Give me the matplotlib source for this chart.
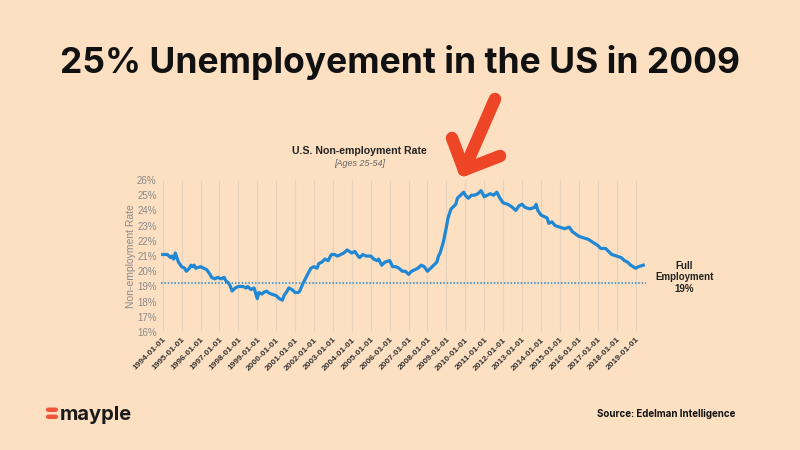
import pandas as pd
import matplotlib.pyplot as plt
import matplotlib.dates as mdates
from matplotlib.lines import Line2D
from matplotlib.patches import FancyBboxPatch

# monthly points (non-employment rate, ages 25-54, %)
months = [
    "1994-01", "1994-04", "1994-06", "1994-07", "1994-08", "1994-09", "1994-10", "1994-11",
    "1995-01", "1995-03", "1995-04", "1995-06", "1995-07", "1995-08", "1995-09", "1995-10",
    "1996-01", "1996-03", "1996-05", "1996-07", "1996-08", "1996-10", "1996-12",
    "1997-02", "1997-04", "1997-05", "1997-06", "1997-07", "1997-08", "1997-09", "1997-11",
    "1998-01", "1998-04", "1998-06", "1998-07", "1998-09", "1998-11",
    "1999-01", "1999-02", "1999-04", "1999-05", "1999-07", "1999-08", "1999-10",
    "2000-01", "2000-03", "2000-05", "2000-06", "2000-08", "2000-09", "2000-11",
    "2001-01", "2001-03", "2001-04", "2001-06", "2001-08", "2001-10", "2001-11",
    "2002-01", "2002-03", "2002-04", "2002-06", "2002-08", "2002-10", "2002-12",
    "2003-02", "2003-04", "2003-06", "2003-08", "2003-10",
    "2004-01", "2004-03", "2004-05", "2004-06", "2004-08", "2004-10",
    "2005-01", "2005-03", "2005-05", "2005-06", "2005-08", "2005-10",
    "2006-01", "2006-03", "2006-05", "2006-07", "2006-09", "2006-11",
    "2007-01", "2007-03", "2007-05", "2007-07", "2007-09", "2007-11",
    "2008-01", "2008-03", "2008-05", "2008-07", "2008-08", "2008-09", "2008-11",
    "2009-01", "2009-02", "2009-03", "2009-04", "2009-06", "2009-07", "2009-08", "2009-10", "2009-12",
    "2010-01", "2010-03", "2010-05", "2010-07", "2010-09", "2010-11",
    "2011-01", "2011-03", "2011-05", "2011-07", "2011-09", "2011-11",
    "2012-01", "2012-04", "2012-07", "2012-09", "2012-11",
    "2013-01", "2013-03", "2013-06", "2013-09", "2013-10", "2013-11",
    "2014-01", "2014-03", "2014-05", "2014-06", "2014-08", "2014-10",
    "2015-01", "2015-04", "2015-07", "2015-09",
    "2016-01", "2016-04", "2016-07", "2016-10",
    "2017-01", "2017-03", "2017-06", "2017-08", "2017-10",
    "2018-01", "2018-04", "2018-06", "2018-08", "2018-10",
    "2019-01", "2019-03", "2019-06",
]
rate = [
    21.1, 21.1, 20.9, 21.0, 20.8, 21.2, 20.9, 20.6,
    20.3, 20.2, 20.0, 20.2, 20.4, 20.3, 20.4, 20.2,
    20.3, 20.2, 20.1, 19.8, 19.6, 19.5, 19.6,
    19.5, 19.6, 19.4, 19.3, 19.2, 19.0, 18.7, 18.9,
    19.0, 19.0, 18.9, 19.0, 18.8, 18.9,
    18.2, 18.6, 18.5, 18.6, 18.7, 18.6, 18.5,
    18.4, 18.2, 18.1, 18.4, 18.7, 18.9, 18.8,
    18.6, 18.6, 18.7, 19.2, 19.6, 20.0, 20.2,
    20.3, 20.2, 20.5, 20.6, 20.8, 20.7, 21.1,
    21.1, 21.0, 21.1, 21.2, 21.4,
    21.2, 21.3, 21.0, 20.9, 21.1, 21.0,
    21.0, 20.8, 20.7, 20.8, 20.4, 20.6,
    20.7, 20.3, 20.3, 20.2, 20.0, 20.0,
    19.8, 20.0, 20.1, 20.2, 20.4, 20.3,
    20.0, 20.2, 20.4, 20.6, 21.0, 21.2, 21.9,
    22.9, 23.5, 23.8, 24.1, 24.3, 24.4, 24.8, 25.0, 25.2,
    25.0, 24.8, 25.0, 25.0, 25.1, 25.3,
    24.9, 25.0, 25.1, 25.0, 25.2, 24.8,
    24.5, 24.4, 24.2, 24.0, 24.3,
    24.4, 24.2, 24.1, 24.2, 24.4, 24.0,
    23.7, 23.6, 23.5, 23.15, 23.25, 23.0,
    22.9, 22.8, 22.9, 22.6,
    22.3, 22.2, 22.1, 21.9,
    21.7, 21.5, 21.5, 21.3, 21.1,
    21.0, 20.9, 20.7, 20.6, 20.4,
    20.2, 20.3, 20.4,
]
full_employment = 19.2
y_ticks = [16, 17, 18, 19, 20, 21, 22, 23, 24, 25, 26]

bg = "#fde0c2"
blue = "#1f87d3"
arrow_red = "#ee4527"
chart_font = "Liberation Sans"

dates = pd.to_datetime(months)

fig = plt.figure(figsize=(8, 4.5), dpi=100, facecolor=bg)
ax = fig.add_axes([0.201, 0.262, 0.606, 0.338])
ax.set_facecolor(bg)

ax.plot(dates, rate, color=blue, linewidth=2.3, zorder=3)
ax.axhline(full_employment, color=blue, linestyle=(0, (1, 1.2)), linewidth=1.1, zorder=2)

ax.set_ylim(16, 26)
ax.set_yticks(y_ticks)
ax.set_yticklabels([f"{v}%" for v in y_ticks], family=chart_font)
ax.set_xlim(pd.Timestamp("1993-11-25"), pd.Timestamp("2019-07-15"))
ax.xaxis.set_major_locator(mdates.YearLocator())
ax.xaxis.set_major_formatter(mdates.DateFormatter("%Y-%m-%d"))
ax.grid(axis="x", color="#e6d2bd", linewidth=0.9)
for s in ax.spines.values():
    s.set_visible(False)
ax.tick_params(length=0)
ax.tick_params(axis="y", labelsize=7, labelcolor="#8a8a8a", pad=3)
ax.tick_params(axis="x", labelsize=6, labelcolor="#333333", pad=3)
for lab in ax.get_xticklabels():
    lab.set_rotation(45)
    lab.set_ha("right")
    lab.set_rotation_mode("anchor")
    lab.set_fontweight("bold")
    lab.set_family(chart_font)
for lab in ax.get_yticklabels():
    lab.set_family(chart_font)
ax.set_ylabel("Non-employment Rate", fontsize=7.5, color="#8a8a8a", labelpad=1,
              family=chart_font)

ax.text(1.08, 0.36, "Full\nEmployment\n19%", transform=ax.transAxes, ha="center",
        va="center", fontsize=7, fontweight="bold", color="#222222", linespacing=1.15,
        family=chart_font)

# headings
fig.text(0.5, 0.862, "25% Unemployement in the US in 2009", ha="center", va="center",
         fontsize=25.5, fontweight="bold", family="Inter", color="#111111")
fig.text(0.449, 0.664, "U.S. Non-employment Rate", ha="center", va="center",
         fontsize=7.6, fontweight="bold", color="#222222", family=chart_font)
fig.text(0.449, 0.637, "[Ages 25-54]", ha="center", va="center",
         fontsize=6.5, style="italic", color="#666666", family=chart_font)

# red arrow pointing at the 2009 peak
def fig_line(x0, y0, x1, y1):
    fig.add_artist(Line2D([x0 / 800, x1 / 800], [1 - y0 / 450, 1 - y1 / 450],
                          color=arrow_red, linewidth=9, solid_capstyle="round"))

fig_line(495, 99, 464, 170)
fig_line(464, 170, 452, 138)
fig_line(464, 170, 500, 156)

# logo + source
for yy in (409.5, 416.5):
    fig.add_artist(FancyBboxPatch((46 / 800, 1 - (yy + 2.5) / 450), 12 / 800, 4.5 / 450,
                                  boxstyle="round,pad=0,rounding_size=0.004",
                                  transform=fig.transFigure, facecolor="#f0553a",
                                  edgecolor="none"))
fig.text(0.075, 0.077, "mayple", ha="left", va="center", fontsize=14.5,
         fontweight="bold", family="Inter", color="#1a1a1a")
fig.text(0.919, 0.08, "Source: Edelman Intelligence", ha="right", va="center",
         fontsize=7, fontweight="bold", family="Inter", color="#111111")

fig.savefig("out.png", dpi=100, facecolor=bg)
